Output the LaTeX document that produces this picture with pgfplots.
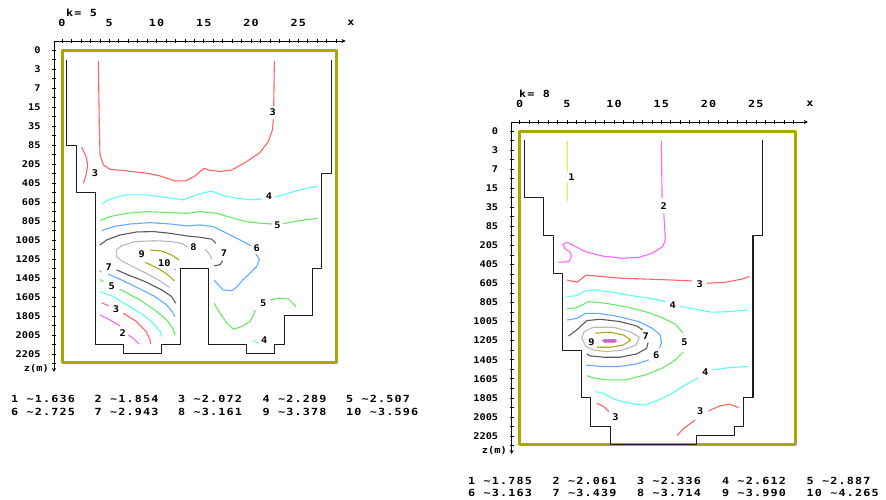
\documentclass[border=0pt]{standalone}
\usepackage{fontspec}
\usepackage{pgfplots}
\pgfplotsset{compat=1.18}
\usetikzlibrary{arrows.meta}
\newfontfamily\pixfont{DejaVu Sans Mono Bold}[FakeStretch=1.12]
\newfontfamily\legfont{DejaVu Sans Mono Bold}[FakeStretch=1.2,LetterSpace=12]
\newcommand\pix{\pixfont\fontsize{9.2pt}{10pt}\selectfont}
\newcommand\leg{\legfont\fontsize{9.8pt}{11pt}\selectfont}
\definecolor{frameol}{RGB}{168,168,0}
\definecolor{outl}{RGB}{30,30,30}
\definecolor{c1}{RGB}{235,235,40}
\definecolor{c2}{RGB}{255,100,255}
\definecolor{c3}{RGB}{255,100,100}
\definecolor{c4}{RGB}{90,250,250}
\definecolor{c5}{RGB}{100,235,100}
\definecolor{c6}{RGB}{100,170,255}
\definecolor{c7}{RGB}{90,90,90}
\definecolor{c8}{RGB}{185,185,185}
\definecolor{c9}{RGB}{175,165,20}
\definecolor{c10}{RGB}{205,100,205}
\pgfplotsset{panel/.style={
  anchor=north west, scale only axis, clip=false, no markers,
  axis x line=top, axis y line=left,
  axis line style={black, line width=0.7pt},
  x axis line style={-{Stealth[length=4pt,width=4pt]}},
  y axis line style={{Stealth[length=4pt,width=4pt]}-},
  xtick={0,...,29}, xticklabels={0,,,,,5,,,,,10,,,,,15,,,,,20,,,,,25,,,,},
  ytick={0,-1,...,-16},
  yticklabels={0,3,7,15,35,85,205,405,605,805,1005,1205,1405,1605,1805,2005,2205},
  minor ytick={-0.5,-1.5,...,-16.5},
  tick align=center, major tick length=4pt, minor tick length=4pt,
  every tick/.style={black, line width=0.6pt},
  xticklabel style={font=\leg, yshift=9pt},
  yticklabel style={font=\pix, xshift=-8pt},
  every axis plot/.append style={line width=1.1pt, line join=round},
}}
\tikzset{lab/.style={font=\pix, inner sep=0pt}}
\begin{document}
\begin{tikzpicture}
\useasboundingbox (0pt,0pt) rectangle (886pt,-500pt);
% ---------------- left panel k=5
\begin{axis}[panel, at={(54pt,-41pt)}, x=9.45pt, y=19pt,
  xmin=-0.85, xmax=30, ymin=-16.95, ymax=0.47]
\addplot[frameol, line width=3pt] coordinates {(0.1,-0.05) (29.0,-0.05) (29.0,-16.47) (0.1,-16.47)} -- cycle;
\addplot[outl] coordinates {(0.5,-0.55) (0.5,-5.05) (1.5,-5.05) (1.5,-7.5) (3.5,-7.5) (3.5,-15.5) (6.5,-15.5) (6.5,-16.0) (10.5,-16.0) (10.5,-15.5) (12.5,-15.5) (12.5,-11.5) (15.5,-11.5) (15.5,-15.5) (19.5,-15.5) (19.5,-16.0) (22.5,-16.0) (22.5,-15.5) (23.5,-15.5) (23.5,-14.0) (26.5,-14.0) (26.5,-11.5) (27.5,-11.5) (27.5,-6.5) (28.5,-6.5) (28.5,-0.55)};
% level 3
\addplot[c3] coordinates {(3.84,-0.56) (3.95,-4.12) (4.02,-5.53) (4.37,-6.05) (5.08,-6.28) (6.84,-6.37) (8.96,-6.49) (10.37,-6.63) (11.96,-6.89) (13.12,-6.89) (14.07,-6.63) (15.03,-6.23) (15.49,-6.32) (16.72,-6.40) (17.95,-6.32) (19.54,-5.88) (20.95,-5.40) (21.83,-4.82) (22.26,-4.21) (22.36,-3.65)};
\addplot[c3] coordinates {(22.4,-2.95) (22.47,-0.56)};
\addplot[c3] coordinates {(2.08,-5.12) (2.54,-5.61) (2.72,-6.05) (2.54,-6.58) (2.26,-7.02)};
\addplot[c3] coordinates {(4.2,-13.3) (4.9,-13.47)};
\addplot[c3] coordinates {(6.49,-13.86) (7.9,-14.3) (8.89,-14.82) (9.31,-15.26) (9.38,-15.47)};
% level 2
\addplot[c2] coordinates {(4.02,-13.95) (5.08,-14.21) (6.14,-14.53)};
\addplot[c2] coordinates {(7.02,-15.0) (7.72,-15.26) (8.18,-15.49)};
% level 4
\addplot[c4] coordinates {(4.2,-8.12) (5.08,-7.84) (6.84,-7.63) (8.96,-7.63) (11.08,-7.77) (12.84,-7.89) (14.25,-7.63) (15.49,-7.46) (16.01,-7.46) (17.07,-7.67) (18.48,-7.81) (20.25,-7.89) (21.2,-7.84)};
\addplot[c4] coordinates {(22.6,-7.74) (24.48,-7.46) (25.89,-7.28) (27.02,-7.19)};
\addplot[c4] coordinates {(4.02,-12.72) (5.43,-12.98) (6.84,-13.42) (8.61,-13.95) (9.66,-14.39) (10.37,-14.82) (10.55,-15.09)};
\addplot[c4] coordinates {(20.18,-15.3) (20.78,-15.42)};
% level 5
\addplot[c5] coordinates {(4.02,-8.98) (5.08,-8.77) (6.84,-8.60) (8.96,-8.51) (11.43,-8.56) (13.19,-8.60) (14.6,-8.51) (16.37,-8.60) (18.13,-8.86) (19.54,-9.04) (20.95,-9.12) (22.2,-9.16)};
\addplot[c5] coordinates {(23.4,-9.14) (25.19,-8.98) (27.02,-8.86)};
\addplot[c5] coordinates {(4.0,-12.08) (4.4,-12.2)};
\addplot[c5] coordinates {(6.14,-12.6) (8.25,-13.16) (10.02,-13.77) (11.08,-14.21) (11.71,-14.65) (11.96,-15.0)};
\addplot[c5] coordinates {(16.08,-13.33) (16.72,-13.86) (17.42,-14.35) (18.13,-14.7) (19.01,-14.56) (19.89,-14.3) (20.25,-13.95) (20.45,-13.7)};
\addplot[c5] coordinates {(22.0,-13.16) (22.89,-13.07) (23.95,-13.11) (24.76,-13.51)};
% level 6
\addplot[c6] coordinates {(4.2,-9.51) (5.43,-9.30) (7.2,-9.16) (9.31,-9.09) (11.43,-9.16) (13.19,-9.26) (14.6,-9.21) (16.01,-9.30) (17.07,-9.56) (18.13,-9.82) (19.19,-10.09) (19.96,-10.3)};
\addplot[c6] coordinates {(20.53,-10.75) (20.88,-11.02) (20.6,-11.4) (19.89,-11.75) (19.12,-12.11) (18.48,-12.49) (17.95,-12.67) (17.07,-12.63) (16.54,-12.37) (16.08,-12.11)};
\addplot[c6] coordinates {(4.0,-11.62) (4.15,-11.7)};
\addplot[c6] coordinates {(4.9,-11.8) (6.31,-12.11) (8.08,-12.54) (9.84,-12.98) (11.07,-13.42) (11.7,-13.8) (11.95,-14.05)};
% level 7
\addplot[c7] coordinates {(4.02,-10.26) (4.73,-10.0) (6.14,-9.74) (7.9,-9.58) (9.66,-9.56) (11.43,-9.65) (13.19,-9.79) (14.6,-9.86) (15.84,-9.96) (16.3,-10.18)};
\addplot[c7] coordinates {(17.0,-11.09) (16.72,-11.3) (16.08,-11.37)};
\addplot[c7] coordinates {(5.78,-11.58) (6.98,-11.84) (8.78,-12.19) (10.54,-12.63) (11.6,-12.98) (12.03,-13.33)};
% level 8
\addplot[c8] coordinates {(13.3,-10.38) (12.66,-10.18) (11.6,-10.09) (9.84,-10.04) (7.72,-10.09) (6.31,-10.3) (5.78,-10.53) (5.78,-10.88) (6.31,-11.1) (7.72,-11.46) (9.13,-11.81) (10.37,-12.16) (11.4,-12.5)};
\addplot[c8] coordinates {(15.13,-10.49) (15.59,-10.74) (15.84,-11.02)};
% level 9 / 10
\addplot[c9] coordinates {(9.31,-10.53) (10.54,-10.58) (11.6,-10.79) (12.38,-11.05)};
\addplot[c9] coordinates {(8.78,-11.18) (9.77,-11.40) (10.72,-11.67) (11.43,-11.93) (11.89,-12.16)};
\addplot[c2] coordinates {(11.9,-11.52) (12.02,-11.56)};
% labels
\node[lab] at (axis cs:22.3,-3.3) {3};
\node[lab] at (axis cs:3.49,-6.49) {3};
\node[lab] at (axis cs:21.9,-7.7) {4};
\node[lab] at (axis cs:22.8,-9.2) {5};
\node[lab] at (axis cs:20.6,-10.45) {6};
\node[lab] at (axis cs:17.14,-10.67) {7};
\node[lab] at (axis cs:13.9,-10.4) {8};
\node[lab] at (axis cs:8.43,-10.75) {9};
\node[lab] at (axis cs:10.83,-11.22) {10};
\node[lab] at (axis cs:4.95,-11.43) {7};
\node[lab] at (axis cs:5.26,-12.46) {5};
\node[lab] at (axis cs:5.71,-13.63) {3};
\node[lab] at (axis cs:6.42,-14.91) {2};
\node[lab] at (axis cs:21.3,-13.35) {5};
\node[lab] at (axis cs:21.4,-15.3) {4};
\end{axis}
% ---------------- right panel k=8
\begin{axis}[panel, at={(511.7pt,-122pt)}, x=9.45pt, y=19.06pt,
  xmin=-0.83, xmax=30.5, ymin=-16.95, ymax=0.47]
\addplot[frameol, line width=3pt] coordinates {(0,-0.04) (29.25,-0.04) (29.25,-16.47) (0,-16.47)} -- cycle;
\addplot[outl] coordinates {(0.55,-0.5) (0.55,-3.5) (2.55,-3.5) (2.55,-5.5) (3.55,-5.5) (3.55,-7.5) (4.55,-7.5) (4.55,-11.5) (6.55,-11.5) (6.55,-14.0) (7.55,-14.0) (7.55,-15.5) (9.6,-15.5) (9.6,-16.45) (18.7,-16.45) (18.7,-16.0) (22.7,-16.0) (22.7,-15.5) (23.7,-15.5) (23.7,-14.0) (24.7,-14.0) (24.7,-5.5) (25.7,-5.5) (25.7,-0.5)};
% level 1
\addplot[c1] coordinates {(5.1,-0.51) (5.1,-2.15)};
\addplot[c1] coordinates {(5.1,-2.7) (5.1,-3.67)};
% level 2
\addplot[c2] coordinates {(15.01,-0.51) (15.08,-3.53)};
\addplot[c2] coordinates {(15.26,-4.32) (15.36,-5.11) (15.43,-5.72) (15.15,-6.07) (14.02,-6.42) (12.61,-6.63) (10.85,-6.68) (8.73,-6.56) (6.97,-6.33) (5.73,-6.02) (5.03,-5.84) (4.57,-5.95) (4.85,-6.19) (5.38,-6.37) (5.49,-6.59) (5.2,-6.86) (4.14,-6.89)};
% level 3
\addplot[c3] coordinates {(5.03,-7.82) (6.08,-7.94) (7.04,-7.56) (8.73,-7.64) (10.85,-7.73) (13.32,-7.77) (16.14,-7.82) (18.25,-7.87)};
\addplot[c3] coordinates {(19.84,-7.99) (21.78,-7.94) (23.54,-7.77) (24.32,-7.64)};
\addplot[c3] coordinates {(8.2,-14.29) (8.91,-14.46) (9.44,-14.72)};
\addplot[c3] coordinates {(16.67,-15.98) (17.37,-15.6) (18.61,-15.16)};
\addplot[c3] coordinates {(20.0,-14.69) (21.25,-14.41) (22.31,-14.34) (23.19,-14.52)};
% level 4
\addplot[c4] coordinates {(5.03,-8.69) (6.08,-8.64) (6.97,-8.39) (8.02,-8.34) (9.79,-8.46) (11.9,-8.64) (14.02,-8.81) (15.4,-8.94)};
\addplot[c4] coordinates {(17.0,-9.2) (18.96,-9.39) (20.37,-9.51) (22.13,-9.48) (24.18,-9.39)};
\addplot[c4] coordinates {(8.02,-13.68) (8.91,-13.76) (9.79,-14.03) (10.85,-14.2) (12.26,-14.34) (13.32,-14.38) (14.73,-14.11) (16.14,-13.76) (17.55,-13.32) (18.9,-12.95)};
\addplot[c4] coordinates {(20.4,-12.55) (22.13,-12.42) (24.18,-12.36)};
% level 5
\addplot[c5] coordinates {(5.03,-9.34) (6.08,-9.27) (7.32,-8.95) (9.08,-9.04) (11.2,-9.22) (13.32,-9.48) (15.08,-9.79) (16.49,-10.14) (17.3,-10.6)};
\addplot[c5] coordinates {(17.3,-11.6) (16.49,-12.01) (15.08,-12.45) (13.32,-12.8) (11.2,-13.06) (9.08,-13.06) (7.67,-12.94) (7.14,-12.84)};
% level 6
\addplot[c6] coordinates {(5.03,-9.92) (6.08,-9.83) (6.97,-9.57) (8.38,-9.57) (10.49,-9.74) (12.61,-10.0) (14.02,-10.35) (14.9,-10.7) (15.01,-11.14) (14.8,-11.4)};
\addplot[c6] coordinates {(13.67,-12.01) (12.26,-12.24) (10.49,-12.36) (8.73,-12.36) (7.67,-12.31) (7.04,-12.28)};
% level 7
\addplot[c7] coordinates {(5.17,-10.76) (6.05,-10.44) (7.11,-9.95) (8.52,-9.88) (10.63,-10.0) (12.4,-10.23) (13.03,-10.44)};
\addplot[c7] coordinates {(13.6,-11.1) (13.46,-11.4) (12.4,-11.7) (10.63,-11.87) (8.87,-11.87) (7.46,-11.8) (7.11,-11.7)};
% level 8
\addplot[c8] coordinates {(6.58,-10.88) (6.83,-10.53) (7.81,-10.3) (9.93,-10.3) (11.69,-10.53) (12.68,-10.83) (12.33,-11.23) (10.98,-11.49) (9.22,-11.58) (7.81,-11.49) (7.04,-11.32)} -- cycle;
% level 9
\addplot[c9] coordinates {(7.99,-10.61) (9.58,-10.56) (10.98,-10.7) (11.76,-10.97) (10.98,-11.23) (9.58,-11.35) (8.17,-11.35)};
% level 10
\addplot[c10, fill=c10, line width=0.5pt] coordinates {(8.76,-11.0) (9.0,-10.93) (10.1,-10.93) (10.29,-11.0) (10.1,-11.09) (9.0,-11.09)} -- cycle;
% labels
\node[lab] at (axis cs:5.5,-2.43) {1};
\node[lab] at (axis cs:15.26,-3.92) {2};
\node[lab] at (axis cs:19.07,-8.03) {3};
\node[lab] at (axis cs:16.21,-9.13) {4};
\node[lab] at (axis cs:17.45,-11.1) {5};
\node[lab] at (axis cs:14.45,-11.75) {6};
\node[lab] at (axis cs:13.35,-10.74) {7};
\node[lab] at (axis cs:7.62,-11.07) {9};
\node[lab] at (axis cs:19.66,-12.66) {4};
\node[lab] at (axis cs:10.14,-14.99) {3};
\node[lab] at (axis cs:19.13,-14.72) {3};
\end{axis}
% ---------------- texts
\node[font=\leg, anchor=west, inner sep=0pt] at (66pt,-13pt) {k= 5};
\node[font=\leg, anchor=west, inner sep=0pt] at (519pt,-94pt) {k= 8};
\node[font=\leg, inner sep=0pt] at (351pt,-23pt) {x};
\node[font=\leg, inner sep=0pt] at (810pt,-104pt) {x};
\node[font=\pix, anchor=east, inner sep=0pt] at (49pt,-369pt) {z(m)};
\node[font=\pix, anchor=east, inner sep=0pt] at (507pt,-451pt) {z(m)};
\begin{scope}[every node/.style={font=\leg, anchor=west, inner sep=0pt}]
\node at (11pt,-399pt) {1 \textasciitilde1.636};
\node at (94.5pt,-399pt) {2 \textasciitilde1.854};
\node at (178pt,-399pt) {3 \textasciitilde2.072};
\node at (262.5pt,-399pt) {4 \textasciitilde2.289};
\node at (346pt,-399pt) {5 \textasciitilde2.507};
\node at (11pt,-411.5pt) {6 \textasciitilde2.725};
\node at (94.5pt,-411.5pt) {7 \textasciitilde2.943};
\node at (178pt,-411.5pt) {8 \textasciitilde3.161};
\node at (262.5pt,-411.5pt) {9 \textasciitilde3.378};
\node at (346pt,-411.5pt) {10 \textasciitilde3.596};
\node at (468pt,-481pt) {1 \textasciitilde1.785};
\node at (552.5pt,-481pt) {2 \textasciitilde2.061};
\node at (637pt,-481pt) {3 \textasciitilde2.336};
\node at (722pt,-481pt) {4 \textasciitilde2.612};
\node at (806.5pt,-481pt) {5 \textasciitilde2.887};
\node at (468pt,-493pt) {6 \textasciitilde3.163};
\node at (552.5pt,-493pt) {7 \textasciitilde3.439};
\node at (637pt,-493pt) {8 \textasciitilde3.714};
\node at (722pt,-493pt) {9 \textasciitilde3.990};
\node at (806.5pt,-493pt) {10 \textasciitilde4.265};
\end{scope}
\end{tikzpicture}
\end{document}
